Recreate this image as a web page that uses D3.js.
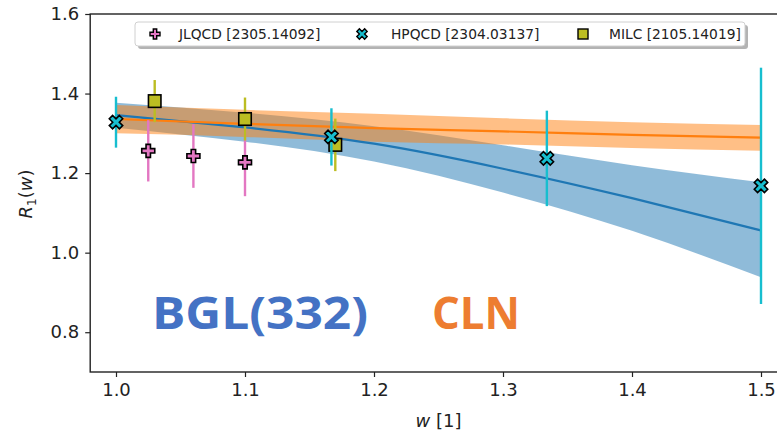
<!DOCTYPE html>
<html>
<head>
    <title>R1(w)</title>
    <script src="https://cdn.jsdelivr.net/npm/d3@7/dist/d3.min.js" type="text/javascript"></script>
    <style type="text/css">
        body { margin: 0; background: #fff; }
        svg text { font-family: "DejaVu Sans", sans-serif; }
    </style>
</head>
<body>
<div id="chart"></div>
<script type="text/javascript">
    // band nodes
    var bandW = [1.0, 1.1, 1.2, 1.3, 1.4, 1.5];
    var bglMid = [1.346, 1.315, 1.274, 1.211, 1.137, 1.056];
    var bglHi  = [1.377, 1.352, 1.318, 1.270, 1.220, 1.177];
    var bglLo  = [1.314, 1.279, 1.229, 1.151, 1.055, 0.938];
    var clnMid = [1.336, 1.324, 1.313, 1.305, 1.296, 1.289];
    var clnHi  = [1.371, 1.359, 1.349, 1.338, 1.328, 1.321];
    var clnLo  = [1.300, 1.291, 1.279, 1.272, 1.263, 1.256];

    // lattice points
    var jlqcdW = [1.025, 1.06, 1.10];
    var jlqcdR = [1.256, 1.243, 1.227];
    var jlqcdE = [0.077, 0.080, 0.085];
    var hpqcdW = [1.0, 1.167, 1.334, 1.5];
    var hpqcdR = [1.328, 1.291, 1.237, 1.168];
    var hpqcdE = [0.064, 0.072, 0.120, 0.297];
    var milcW = [1.03, 1.10, 1.17];
    var milcR = [1.381, 1.336, 1.271];
    var milcE = [0.053, 0.054, 0.066];

    var xTicks = [1.0, 1.1, 1.2, 1.3, 1.4, 1.5];
    var yTicks = [0.8, 1.0, 1.2, 1.4, 1.6];
    var legendNames = ["JLQCD [2305.14092]", "HPQCD [2304.03137]", "MILC [2105.14019]"];

    var W = 777, H = 437;
    var svg = d3.select('#chart').append('svg').attr('width', W).attr('height', H);

    var x = d3.scaleLinear().domain([0.98, 1.52]).range([90.2, 786.8]);
    var y = d3.scaleLinear().domain([0.7, 1.6]).range([372, 14]);

    var blue = '#1f77b4', orange = '#ff7f0e';
    var pink = '#e377c2', cyan = '#17becf', olive = '#bcbd22';

    function band(hi, lo) {
        return d3.area().curve(d3.curveNatural)
            .x(function(d, i) { return x(bandW[i]); })
            .y0(function(d, i) { return y(lo[i]); })
            .y1(function(d, i) { return y(hi[i]); })(bandW);
    }
    function mid(v) {
        return d3.line().curve(d3.curveNatural)
            .x(function(d, i) { return x(bandW[i]); })
            .y(function(d, i) { return y(v[i]); })(bandW);
    }

    var plot = svg.append('g');
    plot.append('path').attr('d', band(bglHi, bglLo)).attr('fill', blue).attr('opacity', 0.5);
    plot.append('path').attr('d', band(clnHi, clnLo)).attr('fill', orange).attr('opacity', 0.5);
    plot.append('path').attr('d', mid(bglMid)).attr('fill', 'none').attr('stroke', blue).attr('stroke-width', 2.2);
    plot.append('path').attr('d', mid(clnMid)).attr('fill', 'none').attr('stroke', orange).attr('stroke-width', 2.2);

    // marker shapes, centred on 0,0
    function plusPath(L, a) {
        return 'M' + (-a) + ',' + (-L) + 'H' + a + 'V' + (-a) + 'H' + L + 'V' + a + 'H' + a +
            'V' + L + 'H' + (-a) + 'V' + a + 'H' + (-L) + 'V' + (-a) + 'H' + (-a) + 'Z';
    }
    var markers = {
        plus: function(g, s) { g.append('path').attr('d', plusPath(s * 0.5, s * 0.17)); },
        cross: function(g, s) { g.append('path').attr('d', plusPath(s * 0.55, s * 0.18)).attr('transform', 'rotate(45)'); },
        square: function(g, s) { g.append('rect').attr('x', -s / 2).attr('y', -s / 2).attr('width', s).attr('height', s); }
    };

    function series(ws, rs, es, color, shape, size) {
        var g = plot.append('g');
        g.selectAll('line').data(ws).enter().append('line')
            .attr('x1', function(d) { return x(d); })
            .attr('x2', function(d) { return x(d); })
            .attr('y1', function(d, i) { return y(rs[i] + es[i]); })
            .attr('y2', function(d, i) { return y(rs[i] - es[i]); })
            .attr('stroke', color).attr('stroke-width', 2.4);
        ws.forEach(function(d, i) {
            var m = g.append('g')
                .attr('transform', 'translate(' + x(d) + ',' + y(rs[i]) + ')')
                .attr('fill', color).attr('stroke', '#000').attr('stroke-width', 1.6);
            markers[shape](m, size);
        });
    }
    series(jlqcdW, jlqcdR, jlqcdE, pink, 'plus', 13);
    series(milcW, milcR, milcE, olive, 'square', 12.5);
    series(hpqcdW, hpqcdR, hpqcdE, cyan, 'cross', 13);

    // axes
    var xAxis = d3.axisBottom(x).tickValues(xTicks).tickFormat(d3.format('.1f')).tickSize(5).tickPadding(6);
    var yAxis = d3.axisLeft(y).tickValues(yTicks).tickFormat(d3.format('.1f')).tickSize(5).tickPadding(6);
    var gx = svg.append('g').attr('transform', 'translate(0,' + y(0.7) + ')').call(xAxis);
    var gy = svg.append('g').attr('transform', 'translate(' + x(0.98) + ',0)').call(yAxis);
    [gx, gy].forEach(function(g) {
        g.select('.domain').remove();
        g.selectAll('.tick line').attr('stroke', '#222').attr('stroke-width', 1.2);
        g.selectAll('.tick text').attr('fill', '#222').style('font-size', '18px')
            .style('font-family', '"DejaVu Sans", sans-serif');
    });
    svg.append('rect')
        .attr('x', x(0.98)).attr('y', y(1.6))
        .attr('width', x(1.52) - x(0.98)).attr('height', y(0.7) - y(1.6))
        .attr('fill', 'none').attr('stroke', '#222').attr('stroke-width', 1.4);

    // axis labels
    var xl = svg.append('text').attr('x', (x(0.98) + x(1.52)) / 2).attr('y', 427)
        .attr('text-anchor', 'middle').attr('fill', '#222').style('font-size', '18px');
    xl.append('tspan').style('font-style', 'italic').text('w');
    xl.append('tspan').text(' [1]');

    var yl = svg.append('text').attr('transform', 'translate(32,194) rotate(-90)')
        .attr('text-anchor', 'middle').attr('fill', '#222').style('font-size', '18px');
    yl.append('tspan').style('font-style', 'italic').text('R');
    yl.append('tspan').attr('dy', 4).style('font-size', '12px').text('1');
    yl.append('tspan').attr('dy', -4).text('(');
    yl.append('tspan').style('font-style', 'italic').text('w');
    yl.append('tspan').text(')');

    // legend
    var lg = svg.append('g');
    lg.append('rect').attr('x', 138).attr('y', 25).attr('width', 610).attr('height', 24).attr('rx', 3)
        .attr('fill', '#b3b3b3');
    lg.append('rect').attr('x', 135).attr('y', 22).attr('width', 610).attr('height', 24).attr('rx', 3)
        .attr('fill', '#fff').attr('stroke', '#d0d0d0').attr('stroke-width', 1);
    var legendItems = [
        {mx: 155, tx: 179, color: pink, shape: 'plus', size: 10},
        {mx: 362, tx: 391, color: cyan, shape: 'cross', size: 10},
        {mx: 583, tx: 609, color: olive, shape: 'square', size: 10}
    ];
    legendItems.forEach(function(it, i) {
        var m = lg.append('g').attr('transform', 'translate(' + it.mx + ',34)')
            .attr('fill', it.color).attr('stroke', '#000').attr('stroke-width', 1.4);
        markers[it.shape](m, it.size);
        lg.append('text').attr('x', it.tx).attr('y', 38.8).attr('fill', '#222')
            .style('font-size', '13.8px').text(legendNames[i]);
    });

    // fit names
    svg.append('text').attr('x', 152).attr('y', 329).attr('fill', '#4472c4')
        .attr('textLength', 216).attr('lengthAdjust', 'spacingAndGlyphs')
        .style('font-family', '"Open Sans", sans-serif').style('font-weight', 'bold').style('font-size', '44px')
        .text('BGL(332)');
    svg.append('text').attr('x', 432).attr('y', 329).attr('fill', '#ed7d31')
        .attr('textLength', 88).attr('lengthAdjust', 'spacingAndGlyphs')
        .style('font-family', '"Open Sans", sans-serif').style('font-weight', 'bold').style('font-size', '44px')
        .text('CLN');
</script>
</body>
</html>
